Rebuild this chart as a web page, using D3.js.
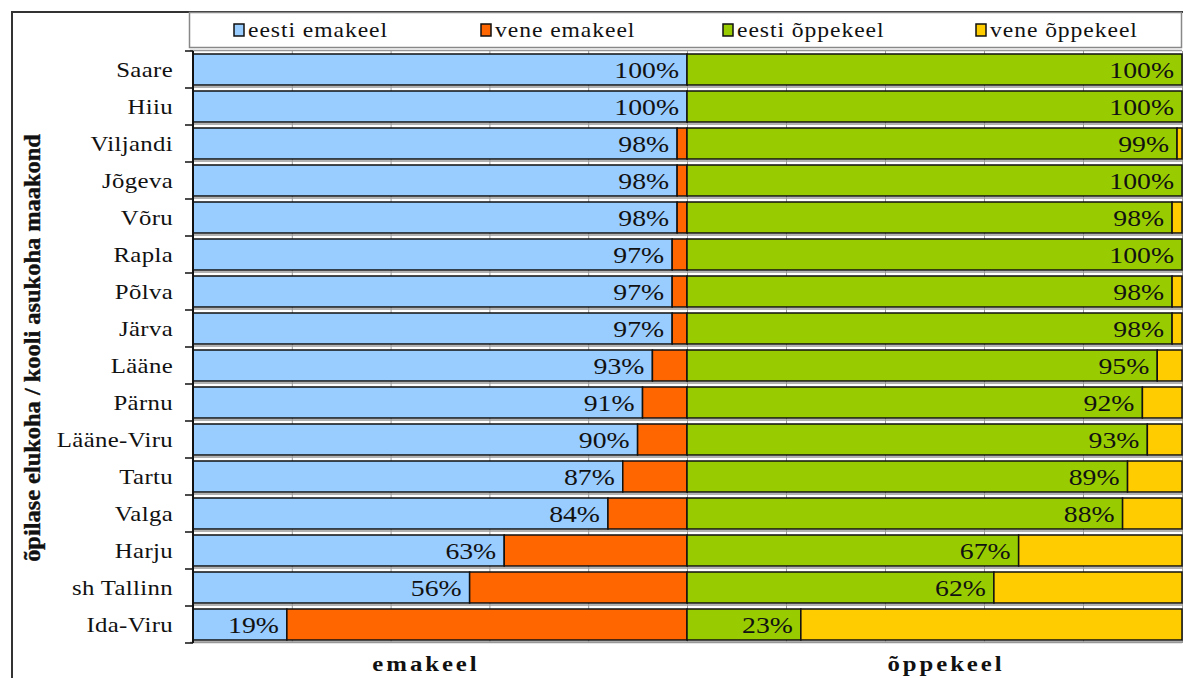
<!DOCTYPE html>
<html>
<head>
<meta charset="utf-8">
<script src="https://cdn.jsdelivr.net/npm/d3@7/dist/d3.min.js"></script>
<style>
  html, body { margin: 0; padding: 0; background: #fff; }
  svg { display: block; }
  text { font-family: "Liberation Serif", "Times New Roman", serif; fill: #111; }
</style>
</head>
<body>
<svg id="chart" width="1183" height="678"></svg>
<script>
// Counties (maakond), top to bottom
const categories = ["Saare", "Hiiu", "Viljandi", "Jõgeva", "Võru", "Rapla", "Põlva", "Järva",
  "Lääne", "Pärnu", "Lääne-Viru", "Tartu", "Valga", "Harju", "sh Tallinn", "Ida-Viru"];

// Mother tongue shares, %
const eestiEmakeel = [100, 100, 98, 98, 98, 97, 97, 97, 93, 91, 90, 87, 84, 63, 56, 19];
const veneEmakeel  = [0, 0, 2, 2, 2, 3, 3, 3, 7, 9, 10, 13, 16, 37, 44, 81];

// Language of instruction shares, %
const eestiOppekeel = [100, 100, 99, 100, 98, 100, 98, 98, 95, 92, 93, 89, 88, 67, 62, 23];
const veneOppekeel  = [0, 0, 1, 0, 2, 0, 2, 2, 5, 8, 7, 11, 12, 33, 38, 77];

const legendLabels = ["eesti emakeel", "vene emakeel", "eesti õppekeel", "vene õppekeel"];
const colors = ["#99CCFF", "#FF6600", "#99CC00", "#FFCC00"];
const panelTitles = ["emakeel", "õppekeel"];
const gridTicks = [20, 40, 60, 80, 100];
const yTitle = "õpilase elukoha / kooli asukoha maakond";

const SX = 1.18; // horizontal text stretch
const svg = d3.select("#chart");

// outer frame
svg.append("path")
  .attr("d", "M12,678 L12,12 L1183,12")
  .attr("fill", "none").attr("stroke", "#333").attr("stroke-width", 2);

const plotTop = 51, plotBottom = 643;
const y = d3.scaleBand().domain(categories).range([plotTop, plotBottom])
  .paddingInner(0.162).paddingOuter(0.081);
const xL = d3.scaleLinear().domain([0, 100]).range([193, 687]);
const xR = d3.scaleLinear().domain([0, 100]).range([687, 1182]);

// plot frame lines
svg.append("line").attr("x1", 190).attr("x2", 1182).attr("y1", plotTop - 0.5).attr("y2", plotTop - 0.5)
  .attr("stroke", "#999").attr("stroke-width", 1.5);
svg.append("line").attr("x1", 190).attr("x2", 1182).attr("y1", plotBottom - 0.5).attr("y2", plotBottom - 0.5)
  .attr("stroke", "#999").attr("stroke-width", 1.5);

// vertical gridlines
[xL, xR].forEach(sc => {
  const g = svg.append("g").attr("transform", `translate(0,${plotTop})`)
    .call(d3.axisTop(sc).tickValues(gridTicks).tickSize(-(plotBottom - plotTop)).tickFormat(""));
  g.select(".domain").remove();
  g.selectAll(".tick line").attr("stroke", "#999").attr("stroke-width", 1);
});

// rows
const rows = categories.map((c, i) => ({
  cat: c,
  left: [eestiEmakeel[i], veneEmakeel[i]],
  right: [eestiOppekeel[i], veneOppekeel[i]]
}));

function drawPanel(sc, key, colorOffset) {
  const g = svg.append("g");
  // shadow under each bar
  g.selectAll("line.shadow").data(rows).join("line")
    .attr("class", "shadow")
    .attr("x1", sc(0)).attr("x2", sc(100))
    .attr("y1", d => y(d.cat) + y.bandwidth() + 2)
    .attr("y2", d => y(d.cat) + y.bandwidth() + 2)
    .attr("stroke", "#999").attr("stroke-width", 1.5);

  rows.forEach(r => {
    const vals = r[key];
    let acc = 0;
    vals.forEach((v, j) => {
      if (v > 0) {
        g.append("rect")
          .attr("x", sc(acc)).attr("y", y(r.cat))
          .attr("width", sc(acc + v) - sc(acc)).attr("height", y.bandwidth())
          .attr("fill", colors[colorOffset + j])
          .attr("stroke", "#111").attr("stroke-width", 1.5);
      }
      acc += v;
    });
    // value label at end of first segment
    const ex = sc(vals[0]) - 8;
    g.append("text")
      .attr("transform", `translate(${ex},${y(r.cat) + y.bandwidth() / 2 + 8}) scale(${SX},1)`)
      .attr("text-anchor", "end")
      .attr("font-size", 23.5)
      .text(vals[0] + "%");
  });
}
drawPanel(xL, "left", 0);
drawPanel(xR, "right", 2);

// category axis
const ax = svg.append("g").attr("transform", "translate(193,0)")
  .call(d3.axisLeft(y).tickSize(0).tickPadding(20));
ax.select(".domain").attr("stroke", "#111").attr("stroke-width", 2)
  .attr("d", `M0,${plotTop}V${plotBottom}`);
ax.selectAll(".tick text")
  .attr("x", null).attr("dy", null)
  .attr("transform", `translate(-20,7) scale(${SX},1)`)
  .attr("font-size", 21)
  .attr("letter-spacing", 0.3)
  .attr("font-family", "Liberation Serif, serif")
  .attr("fill", "#111");

// boundary tick marks
const bounds = d3.range(categories.length + 1).map(i => plotTop + i * y.step());
svg.append("g").selectAll("line").data(bounds).join("line")
  .attr("x1", 185).attr("x2", 193)
  .attr("y1", d => d).attr("y2", d => d)
  .attr("stroke", "#111").attr("stroke-width", 1.5);

// panel titles
[[panelTitles[0], 426], [panelTitles[1], 946]].forEach(([t, cx]) => {
  svg.append("text")
    .attr("transform", `translate(${cx},671) scale(${SX},1)`)
    .attr("text-anchor", "middle")
    .attr("font-size", 21).attr("font-weight", "bold")
    .attr("letter-spacing", 2.5)
    .text(t);
});

// y-axis title
svg.append("text")
  .attr("transform", "translate(40,348) rotate(-90) scale(1,0.92)")
  .attr("text-anchor", "middle")
  .attr("font-size", 24.4).attr("font-weight", "bold")
  .attr("stroke", "#111").attr("stroke-width", 0.4)
  .text(yTitle);

// legend
const lg = svg.append("g");
lg.append("rect").attr("x", 189.5).attr("y", 12.5).attr("width", 992).attr("height", 35)
  .attr("fill", "#fff").attr("stroke", "#888").attr("stroke-width", 1.5);
const legendX = [234, 481, 723, 976];
legendLabels.forEach((l, i) => {
  lg.append("rect").attr("x", legendX[i]).attr("y", 24).attr("width", 10).attr("height", 12)
    .attr("fill", colors[i]).attr("stroke", "#111").attr("stroke-width", 1.5);
  lg.append("text")
    .attr("transform", `translate(${legendX[i] + 14},37) scale(${SX},1)`)
    .attr("font-size", 20).attr("letter-spacing", 0.8)
    .text(l);
});
</script>
</body>
</html>
